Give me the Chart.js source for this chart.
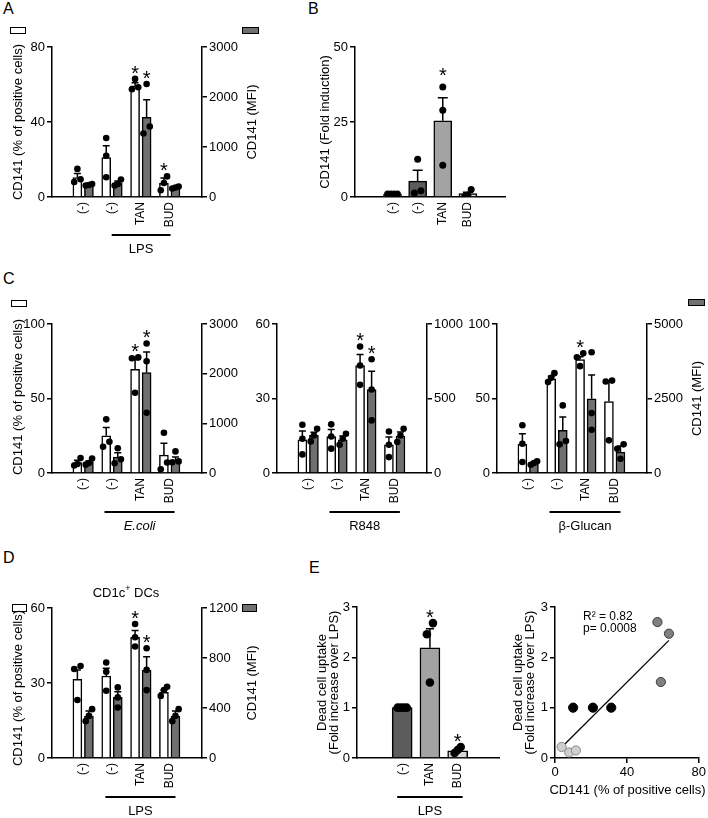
<!DOCTYPE html>
<html>
<head>
<meta charset="utf-8">
<script src="https://cdn.jsdelivr.net/npm/chart.js@4.4.0/dist/chart.umd.min.js"></script>
<style>
  body { margin: 0; width: 708px; height: 818px; background: #fff; position: relative; overflow: hidden;
         font-family: "Liberation Sans", Arial, sans-serif; }
  canvas { position: absolute; }
  .tag { position: absolute; font-size: 16px; line-height: 16px; color: #000; }
  .key { position: absolute; border: 1.5px solid #000; box-sizing: border-box; }
</style>
</head>
<body>
<div class="tag" style="left:3px;top:1px">A</div>
<div class="tag" style="left:308px;top:1px">B</div>
<div class="tag" style="left:3px;top:271px">C</div>
<div class="tag" style="left:3px;top:550px">D</div>
<div class="tag" style="left:309px;top:560px">E</div>

<div class="key" style="left:10px;top:27px;width:16px;height:7px;background:#fff"></div>
<div class="key" style="left:242px;top:27px;width:17px;height:7px;background:#707070"></div>
<div class="key" style="left:11px;top:300px;width:16px;height:7px;background:#fff"></div>
<div class="key" style="left:688px;top:299px;width:17px;height:7px;background:#707070"></div>
<div class="key" style="left:12px;top:604px;width:15px;height:8px;background:#fff"></div>
<div class="key" style="left:242px;top:604px;width:15px;height:8px;background:#707070"></div>

<script>
// =============================================
// DATA
// =============================================

// ----- A: LPS -----
const A_GROUPS = ['(-)', '(-)', 'TAN', 'BUD'];
const A_PCT_TICKS = [0, 40, 80];
const A_MFI_TICKS = [0, 1000, 2000, 3000];
const A_PCT_MEAN = [10.3, 21, 59.3, 7.3];
const A_PCT_SEM = [2.2, 6.3, 1.7, 2.9];
const A_PCT_DOTS = [[8, 15, 9.5], [10.5, 31.5, 22], [57.5, 63, 58.5], [3.6, 11, 7.5]];
const A_PCT_STAR = [0, 0, 1, 1];
const A_MFI_MEAN = [235, 280, 1595, 180];
const A_MFI_SEM = [15, 40, 350, 15];
const A_MFI_DOTS = [[230, 260, 240], [230, 350, 260], [1410, 2260, 1270], [170, 210, 190]];
const A_MFI_STAR = [0, 0, 1, 0];

// ----- B: fold induction -----
const B_GROUPS = ['(-)', '(-)', 'TAN', 'BUD'];
const B_TICKS = [0, 25, 50];
const B_MEAN = [1, 5.3, 25.4, 1.1];
const B_SEM = [0, 3.6, 7.7, 0.5];
const B_DOTS = [[1, 1, 1, 1], [12.6, 1.3, 2.1], [36.7, 28.9, 10.6], [2.5, 0.2, 0.7]];
const B_STAR = [0, 0, 1, 0];

// ----- C: E.coli / R848 / beta-Glucan -----
const C_GROUPS = ['(-)', '(-)', 'TAN', 'BUD'];
const C1_PCT_TICKS = [0, 50, 100];
const C1_MFI_TICKS = [0, 1000, 2000, 3000];
const C1_PCT_MEAN = [7, 25, 69.5, 12];
const C1_PCT_SEM = [1.5, 5.5, 6.5, 8];
const C1_PCT_DOTS = [[6, 10, 5], [17.6, 36, 21], [77.6, 53.9, 77], [27, 2.5, 7]];
const C1_MFI_MEAN = [214, 320, 2023, 255];
const C1_MFI_SEM = [30, 90, 415, 65];
const C1_MFI_DOTS = [[290, 200, 168], [497, 276, 195], [2607, 2251, 1212], [435, 214, 234]];

const C2_PCT_TICKS = [0, 30, 60];
const C2_MFI_TICKS = [0, 500, 1000];
const C2_PCT_MEAN = [13.4, 14.7, 43.3, 11.3];
const C2_PCT_SEM = [3.5, 2.8, 4.4, 3.2];
const C2_PCT_DOTS = [[19.4, 13.8, 7.5], [19.6, 14.7, 9.8], [50.9, 43.3, 35.5], [16.7, 11.4, 6.4]];
const C2_MFI_MEAN = [252, 223, 560, 248];
const C2_MFI_SEM = [22, 25, 123, 27];
const C2_MFI_DOTS = [[297, 212, 252], [263, 190, 230], [763, 560, 353], [297, 208, 252]];

const C3_PCT_TICKS = [0, 50, 100];
const C3_MFI_TICKS = [0, 2500, 5000];
const C3_PCT_MEAN = [19.2, 63.2, 76.1, 48];
const C3_PCT_SEM = [7.1, 1.8, 1.9, 13.4];
const C3_PCT_DOTS = [[32, 19.6, 7.4], [67, 61, 63.9], [80.4, 71.7, 77.7], [62, 61.4, 21.9]];
const C3_MFI_MEAN = [313, 1430, 2490, 703];
const C3_MFI_SEM = [40, 446, 802, 202];
const C3_MFI_DOTS = [[391, 279, 335], [2268, 961, 1072], [4054, 2010, 1451], [961, 480, 815]];

const C12_PCT_STAR = [0, 0, 1, 0];
const C12_MFI_STAR = [0, 0, 1, 0];
const C3_PCT_STAR = [0, 0, 1, 0];
const C3_MFI_STAR = [0, 0, 0, 0];

// ----- D: CD1c+ DCs -----
const D_GROUPS = ['(-)', '(-)', 'TAN', 'BUD'];
const D_PCT_TICKS = [0, 30, 60];
const D_MFI_TICKS = [0, 400, 800, 1200];
const D_PCT_MEAN = [31.5, 32.8, 48.3, 26.3];
const D_PCT_SEM = [3.7, 3.1, 2.7, 0.8];
const D_PCT_DOTS = [[36.8, 35.6, 23.2], [38.2, 34.5, 26.9], [53.6, 48.3, 44.6], [28.5, 27.2, 24.8]];
const D_PCT_STAR = [0, 0, 1, 0];
const D_MFI_MEAN = [335, 485, 704, 335];
const D_MFI_SEM = [42, 45, 107, 42];
const D_MFI_DOTS = [[391, 295, 337], [565, 485, 404], [878, 705, 543], [391, 295, 337]];
const D_MFI_STAR = [0, 0, 1, 0];

// ----- E: dead cell uptake -----
const E_GROUPS = ['(-)', 'TAN', 'BUD'];
const E_TICKS = [0, 1, 2, 3];
const E_MEAN = [1, 2.19, 0.14];
const E_SEM = [0, 0.38, 0.03];
const E_DOTS = [[1, 1, 1, 1], [2.68, 2.46, 1.5], [0.22, 0.1, 0.16]];
const E_STAR = [0, 1, 1];

const ES_X_TICKS = [0, 40, 80];
const ES_LPS_X = [10.1, 21.1, 31.3];
const ES_LPS_Y = [1, 1, 1];
const ES_TAN_X = [57, 63.4, 58.9];
const ES_TAN_Y = [2.7, 2.47, 1.51];
const ES_BUD_X = [3.7, 7.9, 11.6];
const ES_BUD_Y = [0.22, 0.11, 0.15];

// =============================================
// HELPERS
// =============================================
const FONT = '"Liberation Sans", Arial, Helvetica, sans-serif';
const GRAY = '#707070';
Chart.defaults.font.family = FONT;
Chart.defaults.font.size = 12;
Chart.defaults.color = '#000';
Chart.defaults.animation = false;
Chart.defaults.events = [];
Chart.defaults.plugins.legend.display = false;
Chart.defaults.plugins.tooltip.enabled = false;

function makeCanvas(box) {
    const c = document.createElement('canvas');
    c.width = box[2];
    c.height = box[3];
    c.style.left = box[0] + 'px';
    c.style.top = box[1] + 'px';
    c.style.width = box[2] + 'px';
    c.style.height = box[3] + 'px';
    document.body.appendChild(c);
    return c;
}

// side-by-side placement of dots that would overlap (like the original software)
function spread(vals, range, thrPx, step) {
    const thr = range * thrPx / 150;
    const idx = vals.map((v, i) => i).sort((a, b) => vals[a] - vals[b]);
    const off = vals.map(() => 0);
    let cl = [idx[0]];
    const flush = () => {
        cl.forEach((k, j) => {
            off[k] = cl.length === 2 ? (j ? step : -step) : (j - (cl.length - 1) / 2) * step;
        });
    };
    for (let i = 1; i < idx.length; i++) {
        if (vals[idx[i]] - vals[idx[i - 1]] < thr) cl.push(idx[i]);
        else { flush(); cl = [idx[i]]; }
    }
    flush();
    return off;
}

// text drawn in page coords, optional superscript segments
function drawRich(ctx, tx, box, area) {
    const size = tx.size || 13;
    const x = tx.x - box[0];
    const y = tx.y != null ? tx.y - box[1] : (area.top + area.bottom) / 2;
    const segs = typeof tx.t === 'string' ? [{ s: tx.t }] : tx.t;
    const fontFor = sg => (tx.italic ? 'italic ' : '') + (sg.sup ? Math.round(size * 0.7) : size) + 'px ' + FONT;
    let w = 0;
    segs.forEach(sg => { ctx.font = fontFor(sg); w += ctx.measureText(sg.s).width; });
    ctx.save();
    ctx.translate(x, y);
    if (tx.rot) ctx.rotate(tx.rot * Math.PI / 180);
    ctx.fillStyle = '#000';
    ctx.textAlign = 'left';
    ctx.textBaseline = 'middle';
    let px = tx.align === 'left' ? 0 : -w / 2;
    segs.forEach(sg => {
        ctx.font = fontFor(sg);
        ctx.fillText(sg.s, px, sg.sup ? -size * 0.35 : 0);
        px += ctx.measureText(sg.s).width;
    });
    ctx.restore();
}

// error bars, stars, group underline and free texts
function panelPlugin(p) {
    return {
        id: 'panel',
        beforeDatasetsDraw(chart) {
            const ctx = chart.ctx, xs = chart.scales.x;
            ctx.save();
            ctx.strokeStyle = '#000';
            ctx.lineWidth = 1.5;
            (p.series || []).forEach(s => {
                const ys = chart.scales[s.axis];
                s.mean.forEach((m, i) => {
                    if (!s.sem[i]) return;
                    const x = xs.getPixelForValue(i + s.shift);
                    const y0 = ys.getPixelForValue(m);
                    const y1 = ys.getPixelForValue(m + s.sem[i]);
                    ctx.beginPath();
                    ctx.moveTo(x, y0); ctx.lineTo(x, y1);
                    ctx.moveTo(x - p.cap, y1); ctx.lineTo(x + p.cap, y1);
                    ctx.stroke();
                });
            });
            ctx.restore();
        },
        afterDraw(chart) {
            const ctx = chart.ctx, xs = chart.scales.x, a = chart.chartArea;
            ctx.save();
            ctx.fillStyle = '#000';
            ctx.strokeStyle = '#000';
            ctx.font = '20px ' + FONT;
            ctx.textAlign = 'center';
            ctx.textBaseline = 'alphabetic';
            (p.series || []).forEach(s => {
                const ys = chart.scales[s.axis];
                s.star.forEach((on, i) => {
                    if (!on) return;
                    const top = Math.max(s.mean[i] + s.sem[i], ...s.dots[i]);
                    const x = xs.getPixelForValue(i + s.shift);
                    const y = ys.getPixelForValue(top) - p.starGap;
                    ctx.fillText('*', x, y + 0.57 * 20);
                });
            });
            if (p.group) {
                const g = p.group;
                const y = a.bottom + g.dy;
                const x0 = xs.getPixelForValue(g.from), x1 = xs.getPixelForValue(g.to);
                ctx.lineWidth = 1.8;
                ctx.beginPath();
                ctx.moveTo(x0, y); ctx.lineTo(x1, y);
                ctx.stroke();
                ctx.font = (g.italic ? 'italic ' : '') + '13px ' + FONT;
                ctx.textBaseline = 'middle';
                ctx.fillText(g.label, (x0 + x1) / 2, y + 14);
            }
            (p.texts || []).forEach(tx => drawRich(ctx, tx, p.box, a));
            ctx.restore();
        }
    };
}

function yAxis(position, ticks, width) {
    return {
        type: 'linear',
        position: position,
        min: 0,
        max: ticks[ticks.length - 1],
        afterBuildTicks: sc => { sc.ticks = ticks.map(v => ({ value: v })); },
        afterFit: sc => { sc.width = width; },
        grid: { drawOnChartArea: false, drawTicks: true, tickLength: 5, color: '#000', lineWidth: 1.5 },
        border: { display: true, color: '#000', width: 1.5 },
        ticks: { padding: 2, color: '#000', font: { size: 13 }, callback: v => String(v) }
    };
}

function barPanel(p) {
    const [bx, by, bw, bh] = p.box;
    const [l, t, r, b] = p.area;
    const datasets = [];
    p.series.forEach(s => {
        const range = p.axes[s.axis].ticks[p.axes[s.axis].ticks.length - 1];
        const pts = [];
        s.dots.forEach((vals, i) => {
            const off = spread(vals, range, p.thr, p.step);
            vals.forEach((v, k) => pts.push({ x: i + s.shift + off[k], y: v }));
        });
        datasets.push({
            type: 'scatter', data: pts, yAxisID: s.axis,
            pointRadius: p.dotR, backgroundColor: '#000', borderWidth: 0, order: 0
        });
        datasets.push({
            type: 'bar', data: s.mean.map((m, i) => ({ x: i + s.shift, y: m })), yAxisID: s.axis,
            backgroundColor: s.color, borderColor: '#000', borderWidth: 1.5,
            barThickness: p.barW, grouped: false, borderSkipped: 'bottom', order: 2
        });
    });

    const scales = {
        x: {
            type: 'linear', min: p.xMin, max: p.xMax,
            afterBuildTicks: sc => { sc.ticks = p.groups.map((g, i) => ({ value: i })); },
            afterFit: sc => { sc.height = by + bh - b; },
            grid: { drawOnChartArea: false, drawTicks: false },
            border: { display: true, color: '#000', width: 1.5 },
            ticks: { autoSkip: false, minRotation: 90, maxRotation: 90, padding: 5, color: '#000',
                     font: { size: 12 }, callback: v => p.groups[Math.round(v)] }
        },
        y: yAxis('left', p.axes.y.ticks, l - bx)
    };
    if (p.axes.y1) scales.y1 = yAxis('right', p.axes.y1.ticks, bx + bw - r);

    new Chart(makeCanvas(p.box), {
        type: 'bar',
        data: { datasets },
        options: {
            responsive: false,
            layout: { padding: { top: t - by, left: 0, bottom: 0, right: p.axes.y1 ? 0 : bx + bw - r } },
            scales
        },
        plugins: [panelPlugin(p)]
    });
}

// =============================================
// PANELS
// =============================================
const MFI_TITLE = 'CD141 (MFI)';
const PCT_TITLE = 'CD141 (% of positive cells)';

// A
barPanel({
    box: [0, 25, 270, 240], area: [52, 47, 202, 197],
    groups: A_GROUPS, xMin: -0.43, xMax: 3.47,
    barW: 9, dotR: 3.3, step: 0.11, thr: 7.5, cap: 3.5, starGap: 10.5,
    axes: { y: { ticks: A_PCT_TICKS }, y1: { ticks: A_MFI_TICKS } },
    series: [
        { axis: 'y', shift: -0.2, color: '#fff', mean: A_PCT_MEAN, sem: A_PCT_SEM, dots: A_PCT_DOTS, star: A_PCT_STAR },
        { axis: 'y1', shift: 0.2, color: GRAY, mean: A_MFI_MEAN, sem: A_MFI_SEM, dots: A_MFI_DOTS, star: A_MFI_STAR }
    ],
    group: { label: 'LPS', from: 0.99, to: 3.03, dy: 38 },
    texts: [{ t: PCT_TITLE, x: 18, rot: -90 }, { t: MFI_TITLE, x: 252, rot: -90 }]
});

// B
barPanel({
    box: [280, 25, 240, 240], area: [355, 47, 505, 197],
    groups: B_GROUPS, xMin: -0.746, xMax: 3.73,
    barW: 18, dotR: 3.5, step: 0.13, thr: 7, cap: 5, starGap: 16,
    axes: { y: { ticks: B_TICKS } },
    series: [
        { axis: 'y', shift: 0, color: ['#fff', '#5c5c5c', '#a3a3a3', '#d8d8d8'],
          mean: B_MEAN, sem: B_SEM, dots: B_DOTS, star: B_STAR }
    ],
    texts: [{ t: 'CD141 (Fold induction)', x: 325, rot: -90 }]
});

// C
const C_COMMON = { groups: C_GROUPS, xMin: -0.43, xMax: 3.47, barW: 9, dotR: 3.3, step: 0.11, thr: 7.5, cap: 3.5, starGap: 10.5 };
barPanel(Object.assign({}, C_COMMON, {
    box: [0, 300, 250, 240], area: [52, 324, 202, 473],
    axes: { y: { ticks: C1_PCT_TICKS }, y1: { ticks: C1_MFI_TICKS } },
    series: [
        { axis: 'y', shift: -0.2, color: '#fff', mean: C1_PCT_MEAN, sem: C1_PCT_SEM, dots: C1_PCT_DOTS, star: C12_PCT_STAR },
        { axis: 'y1', shift: 0.2, color: GRAY, mean: C1_MFI_MEAN, sem: C1_MFI_SEM, dots: C1_MFI_DOTS, star: C12_MFI_STAR }
    ],
    group: { label: 'E.coli', italic: true, from: 0.74, to: 3.17, dy: 39 },
    texts: [{ t: PCT_TITLE, x: 18, y: 397, rot: -90 }]
}));
barPanel(Object.assign({}, C_COMMON, {
    box: [225, 300, 250, 240], area: [277, 324, 427, 473],
    axes: { y: { ticks: C2_PCT_TICKS }, y1: { ticks: C2_MFI_TICKS } },
    series: [
        { axis: 'y', shift: -0.2, color: '#fff', mean: C2_PCT_MEAN, sem: C2_PCT_SEM, dots: C2_PCT_DOTS, star: C12_PCT_STAR },
        { axis: 'y1', shift: 0.2, color: GRAY, mean: C2_MFI_MEAN, sem: C2_MFI_SEM, dots: C2_MFI_DOTS, star: C12_MFI_STAR }
    ],
    group: { label: 'R848', from: 0.74, to: 3.18, dy: 39 }
}));
barPanel(Object.assign({}, C_COMMON, {
    box: [445, 300, 263, 240], area: [497, 324, 647, 473],
    axes: { y: { ticks: C3_PCT_TICKS }, y1: { ticks: C3_MFI_TICKS } },
    series: [
        { axis: 'y', shift: -0.2, color: '#fff', mean: C3_PCT_MEAN, sem: C3_PCT_SEM, dots: C3_PCT_DOTS, star: C3_PCT_STAR },
        { axis: 'y1', shift: 0.2, color: GRAY, mean: C3_MFI_MEAN, sem: C3_MFI_SEM, dots: C3_MFI_DOTS, star: C3_MFI_STAR }
    ],
    group: { label: 'β-Glucan', from: 0.74, to: 3.2, dy: 39 },
    texts: [{ t: MFI_TITLE, x: 697, rot: -90 }]
}));

// D
barPanel(Object.assign({}, C_COMMON, {
    box: [0, 575, 270, 243], area: [52, 608, 202, 758],
    groups: D_GROUPS,
    axes: { y: { ticks: D_PCT_TICKS }, y1: { ticks: D_MFI_TICKS } },
    series: [
        { axis: 'y', shift: -0.2, color: '#fff', mean: D_PCT_MEAN, sem: D_PCT_SEM, dots: D_PCT_DOTS, star: D_PCT_STAR },
        { axis: 'y1', shift: 0.2, color: GRAY, mean: D_MFI_MEAN, sem: D_MFI_SEM, dots: D_MFI_DOTS, star: D_MFI_STAR }
    ],
    group: { label: 'LPS', from: 0.77, to: 3.2, dy: 39 },
    texts: [
        { t: PCT_TITLE, x: 18, y: 688, rot: -90 },
        { t: MFI_TITLE, x: 252, rot: -90 },
        { t: [{ s: 'CD1c' }, { s: '+', sup: true }, { s: ' DCs' }], x: 126, y: 593 }
    ]
}));

// E (bars)
barPanel({
    box: [300, 575, 210, 243], area: [357, 607, 499, 758],
    groups: E_GROUPS, xMin: -0.776, xMax: 2.637,
    barW: 20, dotR: 4.3, step: 0.11, thr: 12, cap: 4, starGap: 10.5,
    axes: { y: { ticks: E_TICKS } },
    series: [
        { axis: 'y', shift: 0, color: ['#5c5c5c', '#a3a3a3', '#d8d8d8'],
          mean: E_MEAN, sem: E_SEM, dots: E_DOTS, star: E_STAR }
    ],
    group: { label: 'LPS', from: -0.18, to: 2.18, dy: 39 },
    texts: [
        { t: 'Dead cell uptake', x: 322, rot: -90 },
        { t: '(Fold increase over LPS)', x: 334, rot: -90 }
    ]
});

// E (correlation)
(function () {
    const box = [500, 575, 208, 243], area = [555, 607, 700, 758];
    const allX = ES_LPS_X.concat(ES_TAN_X, ES_BUD_X);
    const allY = ES_LPS_Y.concat(ES_TAN_Y, ES_BUD_Y);
    // least-squares fit through all nine points
    const n = allX.length;
    const mx = allX.reduce((s, v) => s + v, 0) / n;
    const my = allY.reduce((s, v) => s + v, 0) / n;
    let sxy = 0, sxx = 0;
    allX.forEach((x, i) => { sxy += (x - mx) * (allY[i] - my); sxx += (x - mx) * (x - mx); });
    const slope = sxy / sxx, icpt = my - slope * mx;
    const xLo = Math.min(...allX), xHi = Math.max(...allX);
    const fit = [{ x: xLo, y: icpt + slope * xLo }, { x: xHi, y: icpt + slope * xHi }];

    const pts = (xs, ys) => xs.map((x, i) => ({ x, y: ys[i] }));
    const xAx = yAxis('bottom', ES_X_TICKS, 0);
    xAx.afterFit = sc => { sc.height = box[1] + box[3] - area[3]; };

    new Chart(makeCanvas(box), {
        type: 'scatter',
        data: {
            datasets: [
                { data: pts(ES_LPS_X, ES_LPS_Y), pointRadius: 4.6, backgroundColor: '#000', borderColor: '#000', borderWidth: 1, order: 0 },
                { data: pts(ES_TAN_X, ES_TAN_Y), pointRadius: 4.6, backgroundColor: '#808080', borderColor: '#3c3c3c', borderWidth: 1, order: 0 },
                { data: pts(ES_BUD_X, ES_BUD_Y), pointRadius: 4.6, backgroundColor: '#cfcfcf', borderColor: '#8a8a8a', borderWidth: 1, order: 0 },
                { type: 'line', data: fit, borderColor: '#000', borderWidth: 1.3, pointRadius: 0, order: 5 }
            ]
        },
        options: {
            responsive: false,
            layout: { padding: { top: area[1] - box[1], left: 0, bottom: 0, right: box[0] + box[2] - area[2] } },
            scales: { x: xAx, y: yAxis('left', E_TICKS, area[0] - box[0]) }
        },
        plugins: [panelPlugin({
            box, texts: [
                { t: 'Dead cell uptake', x: 518, rot: -90 },
                { t: '(Fold increase over LPS)', x: 530, rot: -90 },
                { t: PCT_TITLE, x: 627.5, y: 790 },
                { t: 'R² = 0.82', x: 583, y: 617, size: 12, align: 'left' },
                { t: 'p= 0.0008', x: 583, y: 629, size: 12, align: 'left' }
            ]
        })]
    });
})();
</script>
</body>
</html>
